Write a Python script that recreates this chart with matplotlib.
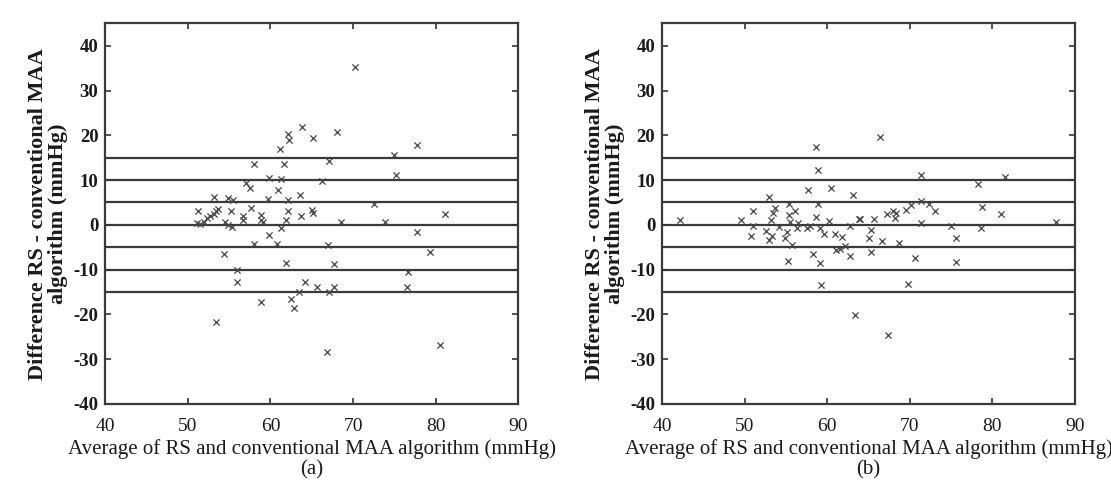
import matplotlib.pyplot as plt

plt.rcParams['font.family'] = ['Liberation Serif', 'DejaVu Serif']
plt.rcParams['axes.unicode_minus'] = False

# Bland-Altman data, panel (a)
avg_a = [70.3, 63.8, 62.1, 62.3, 65.1, 68.1, 77.8, 61.2, 75.0, 67.1,
         58.0, 61.6, 75.2, 59.8, 61.3, 66.2, 57.0, 57.5, 60.9, 63.6,
         53.1, 54.8, 55.5, 59.7, 62.1, 72.6, 57.6, 53.7, 53.4, 51.2,
         55.2, 62.1, 65.0, 65.2, 53.1, 52.7, 52.3, 58.9, 56.7, 56.7,
         63.7, 61.9, 58.9, 59.1, 51.9, 51.1, 51.5, 54.5, 54.9, 55.3,
         81.1, 68.5, 73.9, 61.3, 59.8, 77.7, 58.0, 60.8, 67.0, 79.3,
         54.4, 61.9, 67.7, 55.9, 76.7, 56.0, 64.2, 65.6, 67.7, 76.6,
         67.1, 63.4, 62.5, 58.8, 62.9, 53.4, 66.9, 80.5]
diff_a = [35.3, 21.9, 20.2, 19.0, 19.3, 20.7, 17.9, 16.9, 15.7, 14.2,
          13.6, 13.6, 11.2, 10.5, 10.2, 9.8, 9.3, 8.2, 7.8, 6.7,
          6.2, 5.9, 5.6, 5.8, 5.6, 4.7, 3.8, 3.6, 3.0, 3.0,
          3.0, 3.0, 3.3, 2.6, 2.4, 1.9, 1.5, 2.2, 1.9, 1.0,
          1.9, 1.1, 1.1, 0.6, 0.7, 0.5, 0.2, 0.7, 0.0, -0.4,
          2.5, 0.7, 0.7, -0.7, -2.2, -1.6, -4.2, -4.3, -4.5, -6.1,
          -6.5, -8.6, -8.8, -10.0, -10.6, -12.7, -12.7, -13.8, -13.8, -13.8,
          -14.9, -15.1, -16.5, -17.2, -18.6, -21.7, -28.4, -26.9]

# panel (b)
avg_b = [42.1, 49.5, 51.0, 51.0, 50.8, 52.9, 53.6, 53.4, 53.2, 54.1,
         52.6, 53.3, 52.9, 55.4, 55.3, 56.1, 55.5, 56.5, 55.1, 54.9,
         55.7, 55.2, 56.3, 57.6, 58.6, 58.9, 58.9, 58.6, 57.5, 57.9,
         59.1, 59.6, 58.2, 59.1, 59.2, 60.2, 60.5, 60.9, 61.8, 61.1,
         61.5, 62.1, 62.8, 63.1, 62.7, 63.8, 63.9, 65.7, 65.3, 65.0,
         65.3, 66.6, 66.4, 67.2, 68.0, 68.3, 68.2, 68.7, 69.5, 70.1,
         71.3, 71.3, 71.3, 72.3, 73.1, 70.6, 69.8, 63.4, 67.3, 75.0,
         75.6, 75.6, 78.3, 78.7, 78.6, 81.0, 81.5, 87.7]
diff_b = [1.1, 1.1, 3.2, -0.3, -2.4, 6.2, 3.7, 2.6, 1.1, -0.4,
          -1.3, -2.4, -3.4, 4.7, 2.2, 3.0, 0.7, 0.4, -1.5, -3.0,
          -4.5, -8.0, -0.7, 7.7, 17.3, 12.3, 4.7, 1.7, -0.7, -0.3,
          -0.7, -2.0, -6.5, -8.6, -13.5, 0.9, 8.2, -2.0, -2.7, -5.6,
          -5.4, -4.7, -6.9, 6.6, -0.2, 1.3, 1.4, 1.3, -1.1, -3.0,
          -6.1, -3.5, 19.6, 2.5, 3.1, 2.6, 1.5, -4.1, 3.3, 4.5,
          5.4, 11.2, 0.5, 4.7, 3.0, -7.3, -13.2, -20.1, -24.7, -0.2,
          -3.0, -8.3, 9.2, 4.1, -0.6, 2.5, 10.6, 0.6]

ref_lines = [15, 10, 5, 0, -5, -10, -15]
x_ticks = [40, 50, 60, 70, 80, 90]
y_ticks = [-40, -30, -20, -10, 0, 10, 20, 30, 40]

XLABEL = 'Average of RS and conventional MAA algorithm (mmHg)'
YLABEL = 'Difference RS - conventional MAA\nalgorithm (mmHg)'


def draw_panel(ax, avg, diff, tag):
    for y in ref_lines:
        ax.axhline(y, color='#3a3a3a', linewidth=1.6, zorder=1)
    ax.scatter(avg, diff, marker='x', s=20, linewidths=0.9,
               color='#454545', zorder=3)

    ax.set_xlim(40, 90)
    ax.set_ylim(-40, 45)
    ax.set_xticks(x_ticks)
    ax.set_yticks(y_ticks)
    ax.tick_params(direction='in', top=True, right=True, length=4,
                   width=1.2, colors='#333333', labelcolor='#1a1a1a')
    ax.tick_params(axis='x', labelsize=14, pad=10)
    ax.tick_params(axis='y', labelsize=13.5, pad=5)
    for lbl in ax.get_yticklabels():
        lbl.set_fontweight('bold')
    for sp in ax.spines.values():
        sp.set_linewidth(1.6)
        sp.set_color('#3a3a3a')

    ax.set_xlabel(XLABEL + '\n(' + tag + ')', fontsize=15,
                  labelpad=3, linespacing=1.12, color='#1a1a1a')
    ax.set_ylabel(YLABEL, fontsize=16, fontweight='bold',
                  labelpad=4, linespacing=1.0, color='#1a1a1a')


fig = plt.figure(figsize=(11.11, 4.84), dpi=100)
ax_a = fig.add_axes([0.0949, 0.1653, 0.3714, 0.7864])
ax_b = fig.add_axes([0.5961, 0.1653, 0.3715, 0.7864])

draw_panel(ax_a, avg_a, diff_a, 'a')
draw_panel(ax_b, avg_b, diff_b, 'b')

fig.savefig('out.png', dpi=100, facecolor='white')
